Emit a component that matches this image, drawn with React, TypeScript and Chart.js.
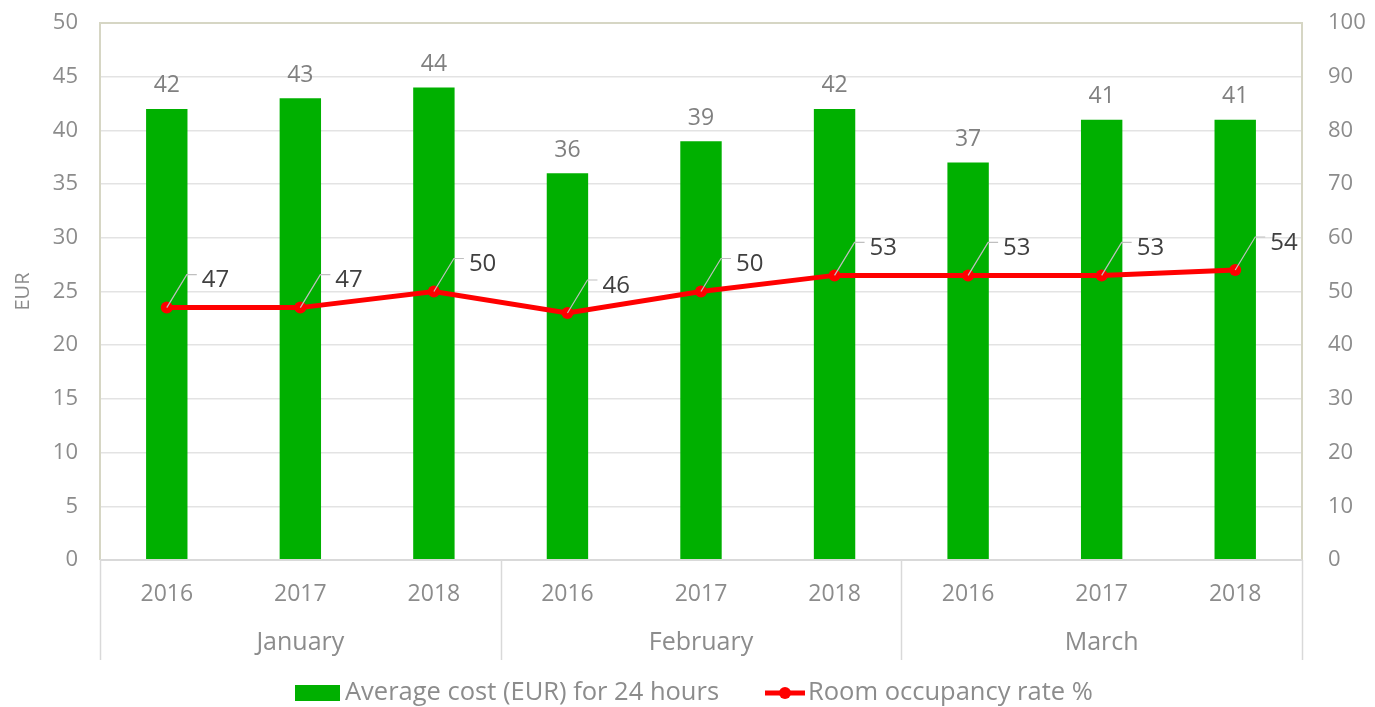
import React, { useEffect, useRef } from "react";
import { Chart, registerables } from "chart.js";

Chart.register(...registerables);

const years = ["2016", "2017", "2018", "2016", "2017", "2018", "2016", "2017", "2018"];
const months = ["January", "February", "March"];
const avgCost = [42, 43, 44, 36, 39, 42, 37, 41, 41];
const occupancy = [47, 47, 50, 46, 50, 53, 53, 53, 54];
const costLabel = "Average cost (EUR) for 24 hours";
const occLabel = "Room occupancy rate %";

const FONT = "'Open Sans', sans-serif";
const GREY = "#8c8c8c";
const GREEN = "#00b000";
const RED = "#ff0000";

const customPlugin = {
  id: "custom",
  beforeDatasetsDraw(chart: any) {
    const { ctx, chartArea } = chart;
    ctx.save();
    ctx.strokeStyle = "#d6d6c4";
    ctx.lineWidth = 2;
    ctx.beginPath();
    ctx.moveTo(chartArea.left, chartArea.bottom);
    ctx.lineTo(chartArea.left, chartArea.top);
    ctx.lineTo(chartArea.right, chartArea.top);
    ctx.lineTo(chartArea.right, chartArea.bottom);
    ctx.stroke();
    ctx.restore();
  },
  afterDraw(chart: any) {
    const { ctx, chartArea, scales } = chart;
    const x = scales.x;
    ctx.save();
    ctx.strokeStyle = "#d9d9d9";
    ctx.lineWidth = 2;
    ctx.beginPath();
    ctx.moveTo(chartArea.left, chartArea.bottom);
    ctx.lineTo(chartArea.right, chartArea.bottom);
    ctx.stroke();
    const step = (chartArea.right - chartArea.left) / years.length;
    ctx.lineWidth = 1.5;
    for (let g = 0; g <= months.length; g++) {
      const gx = Math.round(chartArea.left + g * 3 * step) + 0.5;
      ctx.beginPath();
      ctx.moveTo(gx, chartArea.bottom);
      ctx.lineTo(gx, x.bottom);
      ctx.stroke();
    }
    ctx.fillStyle = GREY;
    ctx.font = `25px ${FONT}`;
    ctx.textAlign = "center";
    ctx.textBaseline = "middle";
    months.forEach((m, g) => {
      const cx = chartArea.left + (g * 3 + 1.5) * step;
      ctx.fillText(m, cx, chartArea.bottom + 83);
    });

    const barMeta = chart.getDatasetMeta(0);
    ctx.font = `23px ${FONT}`;
    ctx.fillStyle = "#808080";
    barMeta.data.forEach((el: any, i: number) => {
      ctx.fillText(String(avgCost[i]), el.x, el.y - 23);
    });

    const lineMeta = chart.getDatasetMeta(1);
    lineMeta.data.forEach((el: any, i: number) => {
      const px = el.x;
      const py = el.y;
      ctx.strokeStyle = "#bfbfbf";
      ctx.lineWidth = 1.2;
      ctx.beginPath();
      ctx.moveTo(px, py);
      ctx.lineTo(px + 20, py - 33);
      ctx.lineTo(px + 30, py - 33);
      ctx.stroke();
      ctx.fillStyle = "#404040";
      ctx.textAlign = "left";
      ctx.font = `24px ${FONT}`;
      ctx.fillText(String(occupancy[i]), px + 35, py - 27);
    });

    const ly = chart.height - 14;
    ctx.fillStyle = GREEN;
    ctx.fillRect(295, ly - 8, 45, 16);
    ctx.fillStyle = GREY;
    ctx.font = `25.5px ${FONT}`;
    ctx.textAlign = "left";
    ctx.fillText(costLabel, 345, ly);
    ctx.strokeStyle = RED;
    ctx.lineWidth = 5;
    ctx.beginPath();
    ctx.moveTo(765, ly);
    ctx.lineTo(805, ly);
    ctx.stroke();
    ctx.fillStyle = RED;
    ctx.beginPath();
    ctx.arc(785, ly, 6, 0, Math.PI * 2);
    ctx.fill();
    ctx.fillStyle = GREY;
    ctx.fillText(occLabel, 808, ly);
    ctx.restore();
  },
};

export default function App() {
  const ref = useRef<HTMLCanvasElement>(null);
  useEffect(() => {
    document.body.style.margin = "0";
    const chart = new Chart(ref.current!, {
      type: "bar",
      data: {
        labels: years,
        datasets: [
          {
            type: "bar",
            label: costLabel,
            data: avgCost,
            backgroundColor: GREEN,
            yAxisID: "y",
            categoryPercentage: 1,
            barPercentage: 0.31,
            order: 2,
          },
          {
            type: "line",
            label: occLabel,
            data: occupancy,
            borderColor: RED,
            backgroundColor: RED,
            borderWidth: 5,
            pointRadius: 6,
            pointBackgroundColor: RED,
            pointBorderWidth: 0,
            yAxisID: "y1",
            order: 1,
          } as any,
        ],
      },
      options: {
        responsive: false,
        animation: false,
        layout: { padding: { top: 23, bottom: 47, left: 0, right: 0 } },
        plugins: { legend: { display: false }, tooltip: { enabled: false } },
        scales: {
          x: {
            grid: { display: false, drawTicks: false },
            border: { display: false },
            ticks: { color: GREY, font: { size: 23, family: FONT }, padding: 21, maxRotation: 0 },
            afterFit: (s: any) => {
              s.height = 100;
              s.paddingLeft = 0;
              s.paddingRight = 0;
            },
          },
          y: {
            position: "left",
            min: 0,
            max: 50,
            ticks: { stepSize: 5, color: GREY, font: { size: 22, family: FONT }, padding: 22 },
            grid: { color: "#e3e3e3", lineWidth: 1.5, drawTicks: false },
            border: { display: false },
            title: { display: true, text: "EUR", color: GREY, font: { size: 20, family: FONT }, padding: { top: 11, bottom: 0 } },
            afterFit: (s: any) => {
              s.width = 100;
              s.paddingTop = 0;
              s.paddingBottom = 0;
            },
          },
          y1: {
            position: "right",
            min: 0,
            max: 100,
            ticks: { stepSize: 10, color: GREY, font: { size: 22, family: FONT }, padding: 26 },
            grid: { display: false, drawTicks: false },
            border: { display: false },
            afterFit: (s: any) => {
              s.width = 73;
              s.paddingTop = 0;
              s.paddingBottom = 0;
            },
          },
        },
      },
      plugins: [customPlugin],
    });
    return () => chart.destroy();
  }, []);
  return <canvas ref={ref} width={1375} height={707} style={{ display: "block" }} />;
}
